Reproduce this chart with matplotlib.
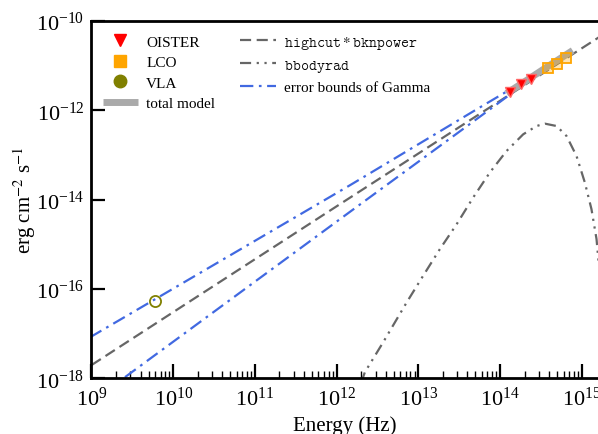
import numpy as np
import matplotlib
matplotlib.use("Agg")
import matplotlib.pyplot as plt

plt.rcParams['font.family'] = ['Liberation Serif', 'DejaVu Serif']
plt.rcParams['mathtext.fontset'] = 'stix'

# observed points (frequency in Hz, flux in erg cm^-2 s^-1)
oister_nu = [10**14.12, 10**14.255, 10**14.375]
oister_f = [10**-11.59, 10**-11.42, 10**-11.29]
lco_nu = [10**14.59, 10**14.693, 10**14.807]
lco_f = [10**-11.046, 10**-10.956, 10**-10.838]
vla_nu = [10**9.776]
vla_f = [10**-16.275]

# model curves (log10 values)
pl_lognu = [9.0, 12.04, 13.836, 15.3]
pl_logf = [-17.70, -14.10, -11.98, -10.26]

up_lognu = [8.98, 12.163, 13.713, 14.45]
up_logf = [-17.08, -13.676, -11.978, -11.18]

lo_lognu = [9.41, 12.04, 13.876, 14.45]
lo_logf = [-17.97, -14.436, -11.978, -11.20]

tot_lognu = [14.08, 14.3, 14.55, 14.89]
tot_logf = [-11.62, -11.36, -11.06, -10.66]

bb_lognu = [12.30, 12.346, 12.57, 12.857, 13.06, 13.264, 13.469, 13.672, 13.876,
            14.08, 14.284, 14.448, 14.55, 14.693, 14.815, 14.937, 15.039,
            15.12, 15.182, 15.21]
bb_logf = [-18.1, -17.86, -17.19, -16.30, -15.70, -15.106, -14.55, -13.95, -13.39,
           -12.91, -12.536, -12.35, -12.297, -12.35, -12.574, -13.02, -13.615,
           -14.21, -14.88, -15.45]

xticks = [1e9, 1e10, 1e11, 1e12, 1e13, 1e14, 1e15]
yticks = [1e-18, 1e-16, 1e-14, 1e-12, 1e-10]

fig = plt.figure(figsize=(5.98, 4.35), dpi=100)
ax = fig.add_axes([0.153, 0.1276, 0.847, 0.8218])

ax.plot(10**np.array(tot_lognu), 10**np.array(tot_logf), color='#aaaaaa', lw=5,
        solid_capstyle='butt', label='total model', zorder=3)
ax.plot(10**np.array(pl_lognu), 10**np.array(pl_logf), color='#666666', lw=1.6,
        ls=(0, (5, 2.5)), label=r'$\mathtt{highcut*bknpower}$', zorder=2)
ax.plot(10**np.array(bb_lognu), 10**np.array(bb_logf), color='#666666', lw=1.6,
        ls=(0, (5, 2.5, 1, 2.5, 1, 2.5)), label=r'$\mathtt{bbodyrad}$', zorder=2)
ax.plot(10**np.array(up_lognu), 10**np.array(up_logf), color='royalblue', lw=1.6,
        ls=(0, (6, 2.5, 1.2, 2.5)), label='error bounds of Gamma', zorder=2)
ax.plot(10**np.array(lo_lognu), 10**np.array(lo_logf), color='royalblue', lw=1.6,
        ls=(0, (6, 2.5, 1.2, 2.5)), zorder=2)

ax.plot(oister_nu, oister_f, 'v', color='red', mec='#ff6666', ms=6.5, ls='none', zorder=4)
ax.plot(lco_nu, lco_f, 's', mfc=(1, 0.65, 0, 0.3), mec='orange', mew=1.3, ms=6.5, ls='none', zorder=4)
ax.plot(vla_nu, vla_f, 'o', mfc='none', mec='olive', mew=1.3, ms=8, ls='none', zorder=4)

# legend-only handles for the markers
ax.plot([], [], 'v', color='red', ms=9, ls='none', label='OISTER')
ax.plot([], [], 's', color='orange', ms=8, ls='none', label='LCO')
ax.plot([], [], 'o', color='olive', ms=9, ls='none', label='VLA')

ax.set_xscale('log')
ax.set_yscale('log')
ax.set_xlim(1e9, 10**15.2)
ax.set_ylim(1e-18, 1e-10)
ax.set_xticks(xticks)
ax.set_yticks(yticks)
ax.yaxis.set_minor_locator(matplotlib.ticker.NullLocator())
ax.xaxis.set_minor_locator(matplotlib.ticker.LogLocator(base=10, subs=np.arange(2, 10), numticks=20))

ax.tick_params(which='major', direction='in', length=10, width=1.6, labelsize=16, pad=5)
ax.tick_params(which='minor', direction='in', length=5, width=1.0)
ax.tick_params(axis='x', which='major', pad=6)
for s in ['left', 'bottom', 'top']:
    ax.spines[s].set_linewidth(2)
ax.spines['right'].set_visible(False)

ax.set_xlabel('Energy (Hz)', fontsize=15, labelpad=4)
ax.set_ylabel(r'erg cm$^{-2}$ s$^{-1}$', fontsize=15, labelpad=-1.5)

h, l = ax.get_legend_handles_labels()
order = ['OISTER', 'LCO', 'VLA', 'total model', r'$\mathtt{highcut*bknpower}$',
         r'$\mathtt{bbodyrad}$', 'error bounds of Gamma']
hh = [h[l.index(o)] for o in order]
leg = ax.legend(hh, order, ncol=2, frameon=False, fontsize=11, loc='upper left',
                bbox_to_anchor=(-0.005, 1.003), handlelength=2.3, handletextpad=0.55,
                columnspacing=1.65, labelspacing=0.45)

fig.savefig('out.png', dpi=100)
